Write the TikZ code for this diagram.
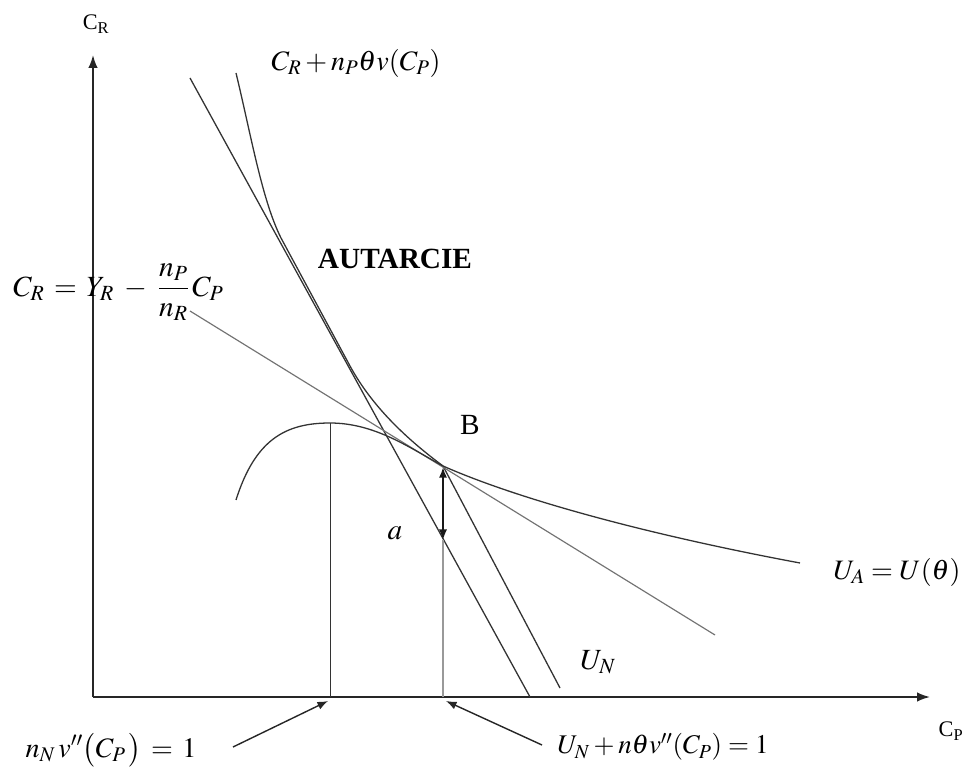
\documentclass[tikz,border=0pt]{standalone}
\usepackage{mathptmx}
\usepackage{fontspec}
\setmainfont{Liberation Serif}
\usetikzlibrary{arrows.meta}
\tikzset{
  axisline/.style={line width=1.4pt, draw=black!85, -{Latex[length=11pt,width=8pt]}},
  curveline/.style={line width=1.1pt, draw=black!80},
  budgetline/.style={line width=1pt, draw=black!55},
  thinline/.style={line width=0.7pt, draw=black!80},
  grayline/.style={line width=0.9pt, draw=black!40},
  lblarrow/.style={line width=1.2pt, draw=black!85, -{Latex[length=9pt,width=7pt]}},
  dblarrow/.style={line width=1.6pt, draw=black!90, {Latex[length=9pt,width=7pt]}-{Latex[length=9pt,width=7pt]}},
  lbl/.style={font=\fontsize{23}{27}\selectfont, inner sep=0pt},
  smalllbl/.style={font=\fontsize{19}{22}\selectfont, inner sep=0pt},
}
\begin{document}
\begin{tikzpicture}[x=0.03cm,y=-0.03cm]
\useasboundingbox (0,0) rectangle (973,769);
% axes
\coordinate (O) at (93,697);
\coordinate (Ytip) at (93,55);
\coordinate (Xtip) at (930,697);
\draw[axisline] (O) -- (Ytip);
\draw[axisline] (O) -- (Xtip);
\node[smalllbl] (CR) at (96,24) {C\textsubscript{R}};
\node[smalllbl] (CP) at (951,731) {C\textsubscript{P}};
% key points
\coordinate (B) at (443,466);
\coordinate (Bdown) at (443,540);
\coordinate (Peak) at (330,423);
\coordinate (PeakFoot) at (330,697);
\coordinate (BFoot) at (443,697);
% steep straight line
\draw[curveline] (190,78) -- (530,697);
% curve C_R + n_P theta v(C_P), then U_N
\draw[curveline] (236,73) .. controls (251,135) and (262,200) .. (281,238)
  -- (350,366) .. controls (375,412) and (415,445) .. (B) -- (560,688);
% budget line
\draw[budgetline] (190,311) -- (715,635);
% hump / indifference curve U_A
\draw[curveline] (236,500) .. controls (255,440) and (285,423) .. (Peak)
  .. controls (375,423) and (410,448) .. (B)
  .. controls (520,500) and (650,535) .. (800,563);
% verticals
\draw[thinline] (Peak) -- (PeakFoot);
\draw[grayline] (Bdown) -- (BFoot);
\draw[dblarrow] ([yshift=-1pt]B) -- (Bdown);
% labels
\node[lbl, font=\fontsize{24}{28}\selectfont] (toplbl) at (356,63) {$C_R + n_P\theta v(C_P)$};
\node[lbl, font=\fontsize{25}{29}\selectfont, anchor=west] (budlbl) at (13,292)
  {$C_R \mathrel{\,=\,} Y_R \mathbin{\;-\;} \displaystyle\frac{n_P}{n_R}\,C_P$};
\node[lbl, font=\fontsize{25}{29}\selectfont\bfseries] (aut) at (395,259) {AUTARCIE};
\node[lbl, font=\fontsize{25}{29}\selectfont] (Blbl) at (470,425) {B};
\node[lbl, font=\fontsize{25}{29}\selectfont] (albl) at (395,533) {$a$};
\node[lbl, font=\fontsize{25}{29}\selectfont] (UNlbl) at (598,662) {$U_N$};
\node[lbl, font=\fontsize{24}{28}\selectfont] (UAlbl) at (897,572) {$U_A = U(\theta)$};
\node[lbl, font=\fontsize{24}{28}\selectfont] (n1lbl) at (111,750) {$n_N\,v''\bigl(C_P\,\bigr) \mathrel{\,=\,} 1$};
\node[lbl, font=\fontsize{23}{27}\selectfont] (n2lbl) at (663,747) {$U_N + n\theta v''(C_P) = 1$};
% label arrows
\coordinate (n1tail) at (233,747);
\coordinate (n1head) at (328,701);
\coordinate (n2tail) at (542,745);
\coordinate (n2head) at (446,701);
\draw[lblarrow] (n1tail) -- (n1head);
\draw[lblarrow] (n2tail) -- (n2head);
\end{tikzpicture}
\end{document}
